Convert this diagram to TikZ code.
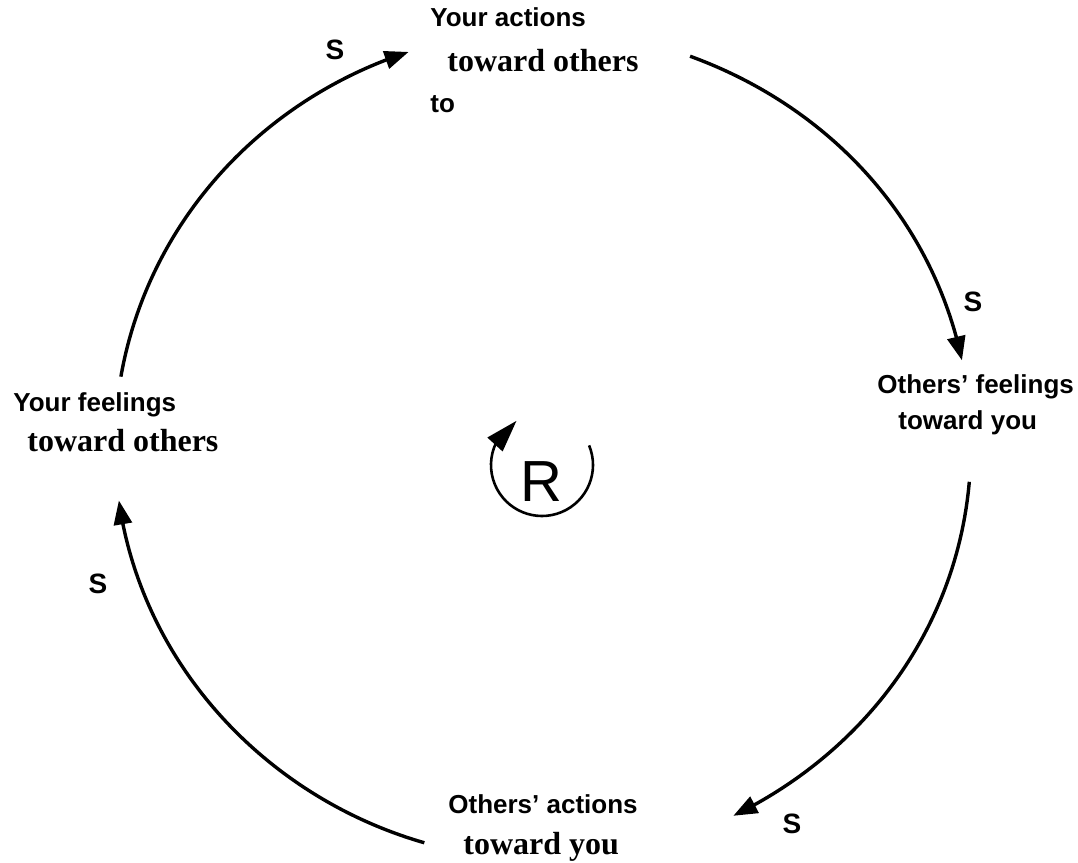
\documentclass[tikz,border=0pt]{standalone}
\usepackage{fontspec}
\newfontfamily\arialfont{Liberation Sans}
\newfontfamily\timesfont{Liberation Serif}
\newcommand{\tward}{\timesfont\bfseries\fontsize{16}{20}\selectfont}
\usetikzlibrary{arrows.meta,bending}

\begin{document}
\begin{tikzpicture}[x=0.5pt, y=0.5pt, every node/.style={inner sep=0pt}, lbl/.style={align=left, anchor=base west, font=\arialfont\bfseries\fontsize{13}{20}\selectfont}, sgn/.style={font=\arialfont\bfseries\fontsize{14}{16}\selectfont}, arr/.style={-{Triangle[length=12pt,width=9pt]}, line width=1.7pt, looseness=0.92}, looparr/.style={-{Triangle[length=16pt,width=10pt]}, line width=1.3pt}]
\useasboundingbox (0,0) rectangle (1078,863);
% labels round the loop
\node[lbl] (act) at (430,750) {Your actions\\[2.5pt]\hspace*{8.5pt}{\tward toward others}\\[0.5pt]to};
\node[lbl] (ofeel) at (877,433) {Others’ feelings\\[-2pt]\hspace*{10.5pt}toward you};
\node[lbl] (oact) at (448,8) {Others’ actions\\[0.5pt]\hspace*{7.5pt}{\tward toward you}};
\node[lbl] (yfeel) at (13,411) {Your feelings\\\hspace*{7pt}{\tward toward others}};
\node[sgn] (s1) at (335,813) {S};
\node[sgn] (s2) at (973,561) {S};
\node[sgn] (s3) at (792,39) {S};
\node[sgn] (s4) at (98,279) {S};
% arc ends on the big loop
\coordinate (o) at (543,418);
\coordinate (act-out) at ([shift={(69.9:428 and 414)}]o);
\coordinate (ofeel-in) at ([shift={(11.8:428 and 414)}]o);
\coordinate (ofeel-out) at ([shift={(-5.1:428 and 414)}]o);
\coordinate (oact-in) at ([shift={(-63.6:428 and 414)}]o);
\coordinate (oact-out) at ([shift={(253.9:428 and 414)}]o);
\coordinate (yfeel-in) at ([shift={(187.7:428 and 414)}]o);
\coordinate (yfeel-out) at ([shift={(170.5:428 and 414)}]o);
\coordinate (act-in) at ([shift={(108.3:428 and 414)}]o);
\draw[arr] (act-out) to[out=-20, in=102] (ofeel-in);
\draw[arr] (ofeel-out) to[out=-95, in=26] (oact-in);
\draw[arr] (oact-out) to[out=164, in=-82] (yfeel-in);
\draw[arr] (yfeel-out) to[out=80, in=198] (act-in);
% loop sign
\node[font=\arialfont\fontsize{29}{32}\selectfont] (rsym) at (541,381) {R};
\coordinate (rc) at (542,398);
\coordinate (r-start) at ([shift={(22.6:51)}]rc);
\draw[looparr] (r-start) arc[start angle=22.6, end angle=-240, radius=51];
\end{tikzpicture}
\end{document}
